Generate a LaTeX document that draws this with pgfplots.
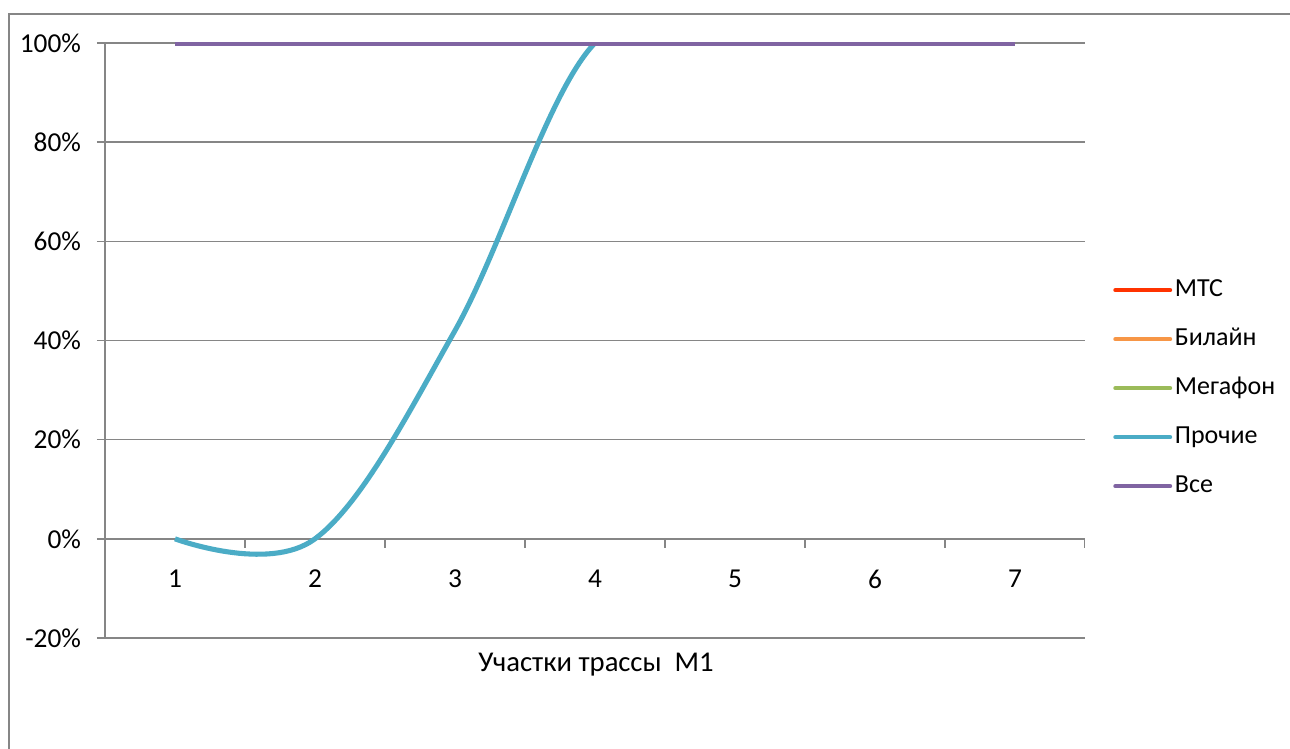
\documentclass[border=0pt]{standalone}
\usepackage{fontspec}
\setmainfont{Carlito}
\usepackage{pgfplots}
\pgfplotsset{compat=1.18}
\definecolor{gridc}{HTML}{868686}
\definecolor{cMTS}{HTML}{FF3300}
\definecolor{cBee}{HTML}{F79646}
\definecolor{cMeg}{HTML}{9BBB59}
\definecolor{cOth}{HTML}{4BACC6}
\definecolor{cAll}{HTML}{8064A2}
\begin{document}
\begin{tikzpicture}
\useasboundingbox (0,0) rectangle (967.5pt,561.75pt);
\fill[white] (0,0) rectangle (967.5pt,561.75pt);
\draw[gridc, line width=1.3pt] (6.75pt,-5pt) -- (6.75pt,551.25pt) -- (975pt,551.25pt);
\begin{axis}[
  at={(78.75pt,83.25pt)}, anchor=south west,
  scale only axis, width=735pt, height=446.25pt,
  xmin=0.5, xmax=7.5, ymin=-0.2, ymax=1,
  axis x line=middle, axis y line=left,
  axis line style={-, draw=gridc, line width=1.1pt},
  xtick={1,2,3,4,5,6,7},
  xticklabels={1,2,3,4,5,6,7},
  xtick style={draw=none},
  xticklabel style={anchor=north, yshift=-14pt},
  ytick={-0.2,0,0.2,0.4,0.6,0.8,1},
  yticklabels={-20\%,0\%,20\%,40\%,60\%,80\%,100\%},
  ytick style={draw=gridc, line width=1.1pt},
  tick align=outside, major tick length=6pt,
  yticklabel style={anchor=east, xshift=-8.5pt},
  ymajorgrids, grid style={draw=gridc, line width=1.1pt},
  tick label style={font=\fontsize{20.5}{24}\selectfont},
  clip=true,
  legend style={at={(1.0286,0.4200)}, anchor=west, draw=none, fill=none,
    font=\fontsize{19.5}{22}\selectfont, inner sep=0pt, row sep=15.75pt,
    nodes={text height=13pt, text depth=4pt, inner sep=2pt},
    legend cell align=left},
  legend image code/.code={\draw[#1, line cap=round, line width=3.2pt] (0pt,0pt) -- (41pt,0pt);},
]
\draw[gridc, line width=1.1pt] (axis cs:1.5,0) -- (axis cs:1.5,-0.018);
\draw[gridc, line width=1.1pt] (axis cs:2.5,0) -- (axis cs:2.5,-0.018);
\draw[gridc, line width=1.1pt] (axis cs:3.5,0) -- (axis cs:3.5,-0.018);
\draw[gridc, line width=1.1pt] (axis cs:4.5,0) -- (axis cs:4.5,-0.018);
\draw[gridc, line width=1.1pt] (axis cs:5.5,0) -- (axis cs:5.5,-0.018);
\draw[gridc, line width=1.1pt] (axis cs:6.5,0) -- (axis cs:6.5,-0.018);
\draw[gridc, line width=1.1pt] (axis cs:7.5,0) -- (axis cs:7.5,-0.018);
\addplot[cMTS, line width=3.8pt, no marks] coordinates {(1,1) (2,1) (3,1) (4,1) (5,1) (6,1) (7,1)};
\addlegendentry{МТС}
\addplot[cBee, line width=3.8pt, no marks] coordinates {(1,1) (2,1) (3,1) (4,1) (5,1) (6,1) (7,1)};
\addlegendentry{Билайн}
\addplot[cMeg, line width=3.8pt, no marks] coordinates {(1,1) (2,1) (3,1) (4,1) (5,1) (6,1) (7,1)};
\addlegendentry{Мегафон}
\addplot[cOth, line width=3.8pt, no marks, smooth, tension=0.6] coordinates {(1,0) (2,0) (3,0.42) (4,1) (5,1) (6,1) (7,1)};
\addlegendentry{Прочие}
\addplot[cAll, line width=3.8pt, no marks] coordinates {(1,1) (2,1) (3,1) (4,1) (5,1) (6,1) (7,1)};
\addlegendentry{Все}
\end{axis}
\node[anchor=base, font=\fontsize{21.5}{25}\selectfont] at (447pt,57.75pt) {Участки трассы\ \ M1};
\end{tikzpicture}
\end{document}
